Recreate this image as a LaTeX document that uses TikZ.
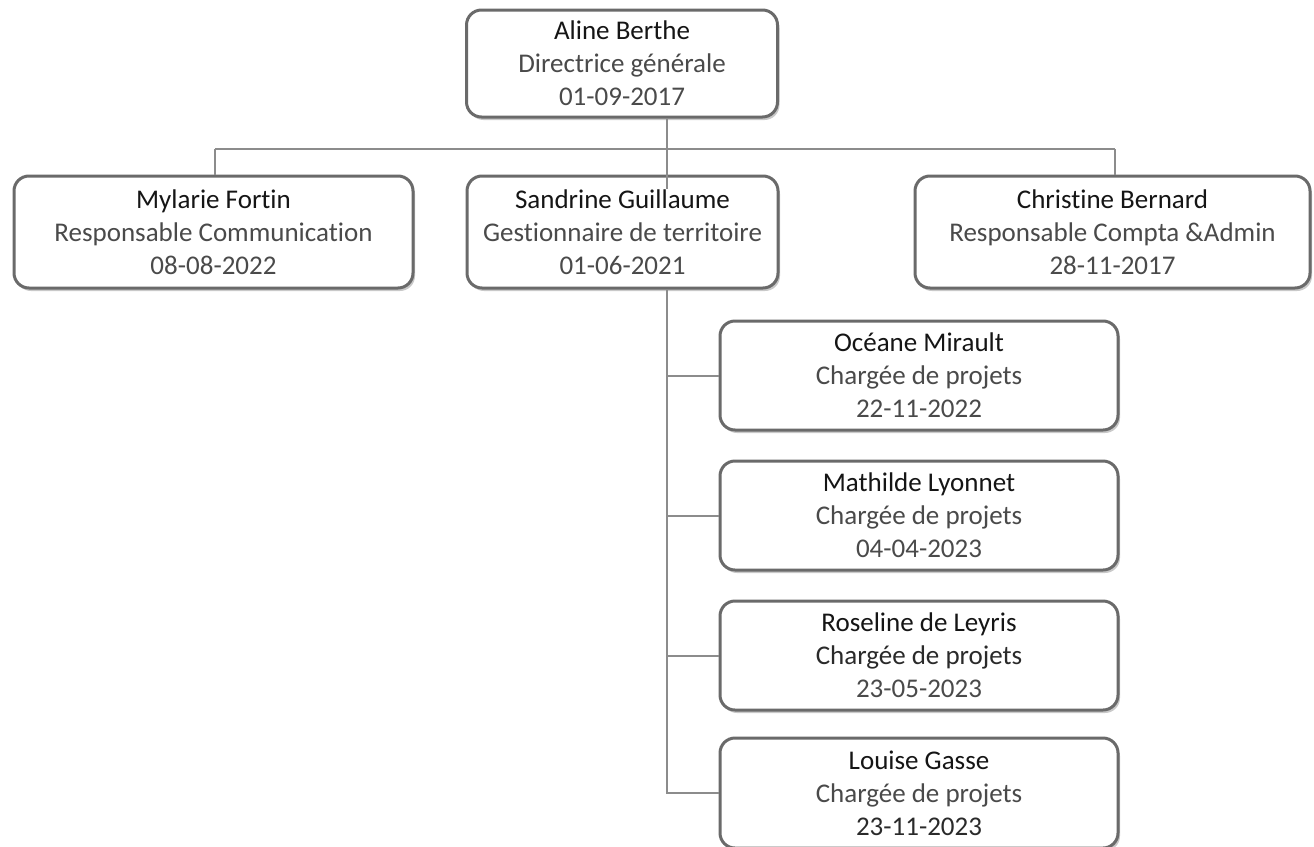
\documentclass[tikz,border=0pt]{standalone}
\usepackage{fontspec}
\setmainfont{Carlito}[Ligatures=NoCommon]
\usetikzlibrary{shadows}
\definecolor{framegray}{HTML}{6A6A6A}
\definecolor{linegray}{HTML}{8C8C8C}
\definecolor{namecol}{HTML}{151515}
\definecolor{rolecol}{HTML}{4A4A4A}
\definecolor{darkrole}{HTML}{2A2A2A}
\tikzset{
  card/.style={draw=framegray, line width=3pt, rounded corners=15pt, fill=white,
    align=center, inner sep=0pt, minimum height=#1, text=rolecol,
    font=\fontsize{27}{33}\selectfont,
    drop shadow={shadow xshift=2pt, shadow yshift=-3pt, opacity=0.35, fill=black!60}},
  card/.default=110pt,
  conn/.style={draw=linegray, line width=2pt}
}
\newcommand{\nm}[1]{\textcolor{namecol}{#1}}
\newcommand{\dk}[1]{\textcolor{darkrole}{#1}}
\begin{document}
\begin{tikzpicture}[x=1pt,y=-1pt]
\useasboundingbox (0,0) rectangle (1314,846);
\fill[white] (0,0) rectangle (1314,846);

\coordinate (spine) at (667,0);
\coordinate (bl) at (215,149);
\coordinate (br) at (1115,149);

% connectors first (under boxes)
\draw[conn] (bl) -- (br);

\node[card=107pt, minimum width=311pt] (top) at (622,63.5) {\nm{Aline Berthe}\\Directrice générale\\01-09-2017};
\node[card=112pt, minimum width=399pt] (mylarie) at (213.5,232) {\nm{Mylarie Fortin}\\Responsable Communication\\08-08-2022};
\node[card=112pt, minimum width=311pt] (sandrine) at (622.5,232) {\nm{Sandrine Guillaume}\\Gestionnaire de territoire\\01-06-2021};
\node[card=112pt, minimum width=395pt] (christine) at (1112.5,232) {\nm{Christine Bernard}\\Responsable Compta \&Admin\\28-11-2017};
\node[card=109pt, minimum width=398pt] (oceane) at (919,375.5) {\nm{Océane Mirault}\\Chargée de projets\\22-11-2022};
\node[card=109pt, minimum width=398pt] (mathilde) at (919,515.5) {\nm{Mathilde Lyonnet}\\Chargée de projets\\04-04-2023};
\node[card=109pt, minimum width=398pt] (roseline) at (919,655.5) {\nm{Roseline de Leyris}\\\dk{Chargée de projets}\\23-05-2023};
\node[card=110pt, minimum width=398pt] (louise) at (919,793) {\nm{Louise Gasse}\\Chargée de projets\\\dk{23-11-2023}};

\draw[conn] (bl) -- (mylarie.north -| bl);
\draw[conn] (br) -- (christine.north -| br);
\draw[conn] (top.south -| spine) -- ([yshift=-14pt]sandrine.north -| spine);
\draw[conn] (sandrine.south -| spine) |- (louise.west);
\draw[conn] (spine |- oceane.west) -- (oceane.west);
\draw[conn] (spine |- mathilde.west) -- (mathilde.west);
\draw[conn] (spine |- roseline.west) -- (roseline.west);
\end{tikzpicture}
\end{document}
